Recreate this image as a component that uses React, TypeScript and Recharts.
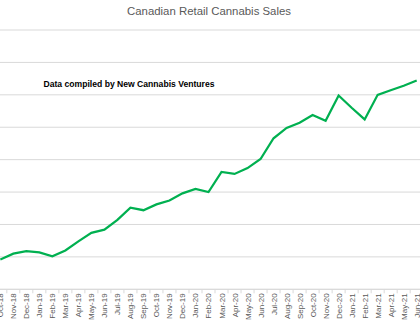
import React from 'react';
import { LineChart, Line, XAxis, YAxis, CartesianGrid } from 'recharts';

const months = [
  'Oct-18', 'Nov-18', 'Dec-18',
  'Jan-19', 'Feb-19', 'Mar-19', 'Apr-19', 'May-19', 'Jun-19', 'Jul-19', 'Aug-19', 'Sep-19', 'Oct-19', 'Nov-19', 'Dec-19',
  'Jan-20', 'Feb-20', 'Mar-20', 'Apr-20', 'May-20', 'Jun-20', 'Jul-20', 'Aug-20', 'Sep-20', 'Oct-20', 'Nov-20', 'Dec-20',
  'Jan-21', 'Feb-21', 'Mar-21', 'Apr-21', 'May-21', 'Jun-21',
];

const sales = [
  46, 55, 59,
  57, 51, 60, 74, 87, 92, 107, 126, 122, 131, 137, 148,
  155, 150, 181, 178, 187, 201, 233, 249, 257, 269, 260, 299,
  280, 262, 300, 307, 314, 322,
];

const yTicks = [0, 50, 100, 150, 200, 250, 300, 350, 400];

const title = 'Canadian Retail Cannabis Sales';
const note = 'Data compiled by New Cannabis Ventures';

const data = months.map((m, i) => ({ month: m, sales: sales[i] }));

const HALF_STEP = 6.5;

const MonthTick = (props: any) => {
  const { x, y, payload, index } = props;
  return (
    <g>
      <line x1={x - HALF_STEP} x2={x - HALF_STEP} y1={y} y2={y + 4} stroke="#D9D9D9" strokeWidth={1} />
      {index === months.length - 1 && (
        <line x1={x + HALF_STEP} x2={x + HALF_STEP} y1={y} y2={y + 4} stroke="#D9D9D9" strokeWidth={1} />
      )}
      <text
        x={x + 3}
        y={y + 4}
        transform={`rotate(-90, ${x + 3}, ${y + 4})`}
        textAnchor="end"
        fontFamily="'Liberation Sans', Arial, sans-serif"
        fontSize={8}
        fill="#595959"
      >
        {payload.value}
      </text>
    </g>
  );
};

export default function App() {
  return (
    <div
      style={{
        position: 'absolute',
        left: 0,
        top: 0,
        width: 420,
        height: 322,
        overflow: 'hidden',
        background: '#ffffff',
      }}
    >
      <div style={{ position: 'absolute', left: -20, top: 0 }}>
        <LineChart
          width={460}
          height={340}
          data={data}
          margin={{ top: 30, right: 16.8, left: 13.8, bottom: 0 }}
        >
          <CartesianGrid horizontal vertical={false} stroke="#D9D9D9" strokeWidth={1} />
          <YAxis hide domain={[0, 400]} ticks={yTicks} type="number" />
          <XAxis
            dataKey="month"
            interval={0}
            height={50.7}
            padding={{ left: HALF_STEP, right: HALF_STEP }}
            tickSize={0}
            tickMargin={0}
            tickLine={false}
            axisLine={{ stroke: '#D9D9D9' }}
            tick={<MonthTick />}
          />
          <Line
            type="linear"
            dataKey="sales"
            stroke="#00B050"
            strokeWidth={2.25}
            dot={false}
            isAnimationActive={false}
          />
        </LineChart>
      </div>
      <svg
        width={420}
        height={322}
        style={{ position: 'absolute', left: 0, top: 0, pointerEvents: 'none' }}
      >
        <text
          x={209}
          y={15}
          textAnchor="middle"
          fontFamily="'Liberation Sans', Arial, sans-serif"
          fontSize={11.4}
          fill="#595959"
        >
          {title}
        </text>
        <text
          x={129}
          y={87}
          textAnchor="middle"
          fontFamily="'Liberation Sans', Arial, sans-serif"
          fontWeight="bold"
          fontSize={8.6}
          fill="#000000"
        >
          {note}
        </text>
      </svg>
    </div>
  );
}
